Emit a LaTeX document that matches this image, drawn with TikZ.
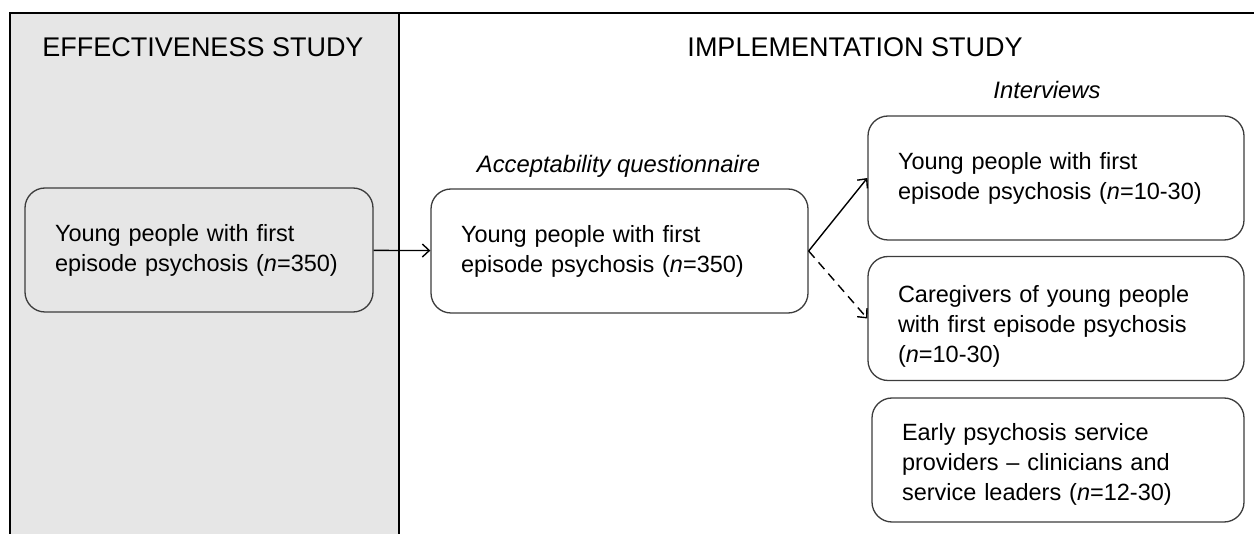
\documentclass[tikz,border=0pt]{standalone}
\usepackage{fontspec}
\setmainfont{Liberation Sans}
\usepackage{tikz}
\usetikzlibrary{positioning, calc, arrows.meta}
\definecolor{panelgray}{HTML}{E6E6E6}
\definecolor{edgegray}{HTML}{3C3C3C}

\begin{document}
\begin{tikzpicture}[x=1pt, y=-1pt,
    txt/.style={font=\fontsize{23.5}{30}\selectfont},
    heading/.style={font=\fontsize{27}{32}\selectfont},
    caption/.style={font=\fontsize{23.8}{28}\selectfont\itshape},
    box/.style={txt, draw=edgegray, line width=1.3pt, rounded corners=20pt,
      align=left, inner xsep=30pt, minimum height=124pt},
    link/.style={-{Straight Barb[length=7pt,width=13pt]}, line width=1.4pt}]
  \useasboundingbox (0,0) rectangle (1254,534);
  % study panels
  \fill[panelgray] (10,13) rectangle (399,534);
  \draw[line width=1.6pt] (10,534) -- (10,13) -- (1254,13);
  \draw[line width=1.6pt] (399,13) -- (399,534);
  \node[heading] (effhead) at (203,47) {EFFECTIVENESS STUDY};
  \node[heading] (imphead) at (855,47) {IMPLEMENTATION STUDY};

  % effectiveness cohort and questionnaire
  \node[box, fill=panelgray, text width=288pt] (young) at (199,250)
    {Young people with first\\episode psychosis (\textit{n}=350)};
  \node[box, fill=white, text width=317pt] (accept) at (619.5,251)
    {Young people with first\\episode psychosis (\textit{n}=350)};
  \node[caption] (acccap) at (618.5,166) {Acceptability questionnaire};
  \node[caption] (intcap) at (1047,90) {Interviews};

  % interview groups
  \foreach \i/\x/\y/\w/\lift/\txt in {
    1/1056/178/316/0/{Young people with first\\episode psychosis (\textit{n}=10-30)},
    2/1056/318.5/316/33/{Caregivers of young people\\with first episode psychosis\\(\textit{n}=10-30)},
    3/1058/460/312/25/{Early psychosis service\\providers -- clinicians and\\service leaders (\textit{n}=12-30)}%
  } {
    \node[box, text width=\w pt] (int\i) at (\x,\y) {\rule{0pt}{\lift pt}\txt};
  }

  \draw[link] (young) -- (accept);
  \draw[link] (accept.east) -- (int1.west);
  \draw[link, dashed, dash pattern=on 9pt off 6pt] (accept.east) -- (int2.west);
\end{tikzpicture}
\end{document}
